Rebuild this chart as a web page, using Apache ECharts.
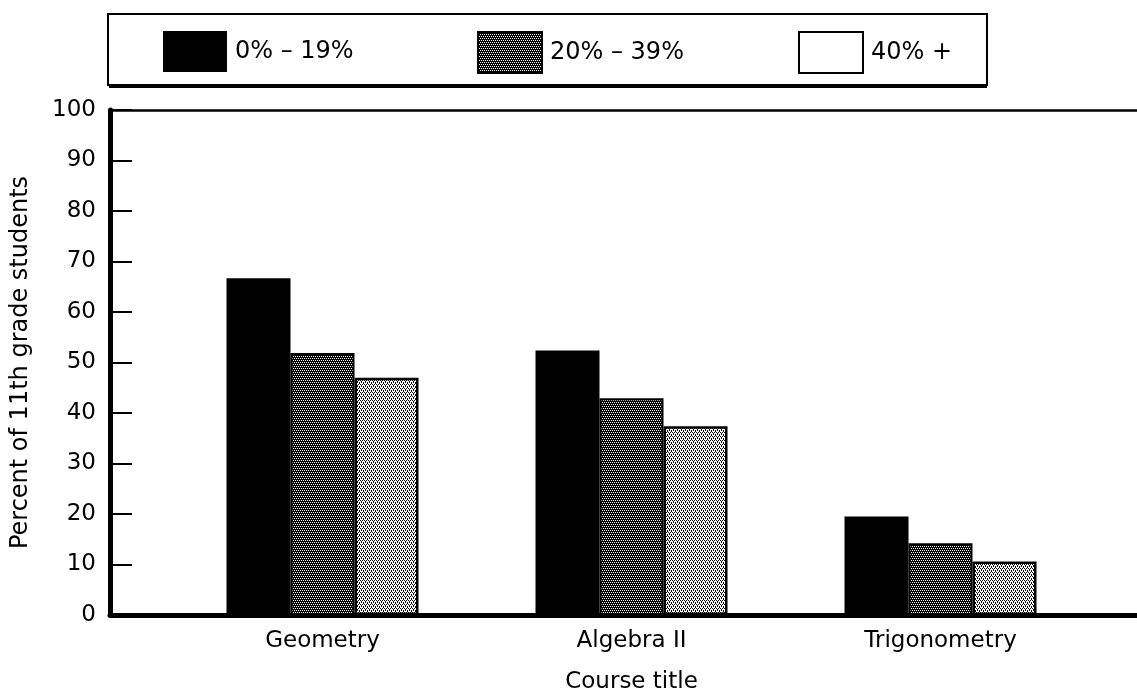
<!DOCTYPE html>
<html>
<head>
<meta charset="utf-8">
<script src="https://cdn.jsdelivr.net/npm/echarts@6/dist/echarts.min.js"></script>
<style>
  html, body { margin: 0; padding: 0; background: #fff; }
  #chart { width: 1137px; height: 693px; }
</style>
</head>
<body>
<div id="chart"></div>
<script>
// Course-taking of 11th graders by poverty level of school
const categories = ['Geometry', 'Algebra II', 'Trigonometry'];
const seriesNames = ['0% \u2013 19%', '20% \u2013 39%', '40% +'];
const lowPoverty = [66.7, 52.4, 19.5];
const midPoverty = [51.9, 42.9, 14.2];
const highPoverty = [47.0, 37.4, 10.6];
const yMin = 0, yMax = 100, yStep = 10;

const FONT = 'DejaVu Sans';

// Small halftone tiles used as bar fills ('#' = ink, '.' = paper)
function halftone(rows) {
  const h = rows.length, w = rows[0].length;
  const c = document.createElement('canvas');
  c.width = w; c.height = h;
  const ctx = c.getContext('2d');
  ctx.fillStyle = '#fff';
  ctx.fillRect(0, 0, w, h);
  ctx.fillStyle = '#000';
  rows.forEach((r, y) => {
    for (let x = 0; x < w; x++) if (r[x] === '#') ctx.fillRect(x, y, 1, 1);
  });
  return { image: c, repeat: 'repeat' };
}
const darkDots = halftone(['#.#.', '####', '.#.#', '####']);
const lightDots = halftone(['#.#.', '.#..', '.#.#', '...#']);

const chart = echarts.init(document.getElementById('chart'), null, { renderer: 'canvas' });

const barBase = {
  type: 'bar',
  xAxisIndex: 2,
  yAxisIndex: 1,
  barWidth: 64,
  barGap: '0%',
  emphasis: { disabled: true }
};

const legendBase = {
  top: 31,
  padding: 0,
  itemWidth: 64,
  itemHeight: 41,
  icon: 'rect',
  selectedMode: false,
  textStyle: { fontFamily: FONT, fontSize: 24, color: '#000', padding: [0, 0, 0, 3] }
};

chart.setOption({
  animation: false,
  backgroundColor: '#fff',
  graphic: [
    // legend frame with its heavier lower edge
    {
      type: 'rect', z: -2,
      shape: { x: 109, y: 17, width: 878, height: 71 },
      style: { fill: '#000' }
    },
    {
      type: 'rect', z: -1,
      shape: { x: 108, y: 14, width: 879, height: 71 },
      style: { fill: '#fff', stroke: '#000', lineWidth: 2 }
    }
  ],
  legend: [
    Object.assign({}, legendBase, { left: 163, data: [seriesNames[0]] }),
    Object.assign({}, legendBase, { left: 477, data: [seriesNames[1]] }),
    Object.assign({}, legendBase, {
      left: 798,
      data: [{ name: seriesNames[2], itemStyle: { color: '#fff', borderColor: '#000', borderWidth: 2 } }]
    })
  ],
  grid: [
    // frame: left axis, top rule, baseline
    { left: 110, right: 0, top: 110, bottom: 78, containLabel: false, outerBoundsMode: 'none' },
    // bar area
    { left: 168, right: 42, top: 110, bottom: 78, containLabel: false, outerBoundsMode: 'none' }
  ],
  xAxis: [
    {
      gridIndex: 0, type: 'value', position: 'bottom', min: 0, max: 1,
      axisLine: { show: true, lineStyle: { color: '#000', width: 5 } },
      axisTick: { show: false }, axisLabel: { show: false }, splitLine: { show: false }
    },
    {
      gridIndex: 0, type: 'value', position: 'top', min: 0, max: 1,
      axisLine: { show: true, lineStyle: { color: '#000', width: 2.5 } },
      axisTick: { show: false }, axisLabel: { show: false }, splitLine: { show: false }
    },
    {
      gridIndex: 1, type: 'category', data: categories, position: 'bottom',
      axisLine: { show: false }, axisTick: { show: false },
      axisLabel: { fontFamily: FONT, fontSize: 23, color: '#000', margin: 15 },
      name: 'Course title', nameLocation: 'middle', nameGap: 56,
      nameTextStyle: { fontFamily: FONT, fontSize: 23, color: '#000' }
    }
  ],
  yAxis: [
    {
      gridIndex: 0, type: 'value', min: yMin, max: yMax, interval: yStep,
      axisLine: { show: true, lineStyle: { color: '#000', width: 5 } },
      axisTick: { show: true, inside: true, length: 22, lineStyle: { color: '#000', width: 2 } },
      axisLabel: { fontFamily: FONT, fontSize: 23, color: '#000', margin: 14 },
      splitLine: { show: false },
      name: 'Percent of 11th grade students', nameLocation: 'middle', nameGap: 77,
      nameTextStyle: { fontFamily: FONT, fontSize: 24, color: '#000' }
    },
    {
      gridIndex: 1, type: 'value', min: yMin, max: yMax, show: false
    }
  ],
  series: [
    Object.assign({}, barBase, {
      name: seriesNames[0], data: lowPoverty,
      itemStyle: { color: '#000', borderColor: '#000', borderWidth: 0 }
    }),
    Object.assign({}, barBase, {
      name: seriesNames[1], data: midPoverty,
      itemStyle: { color: darkDots, borderColor: '#000', borderWidth: 2 }
    }),
    Object.assign({}, barBase, {
      name: seriesNames[2], data: highPoverty,
      itemStyle: { color: lightDots, borderColor: '#000', borderWidth: 2.5 }
    })
  ]
});
</script>
</body>
</html>
